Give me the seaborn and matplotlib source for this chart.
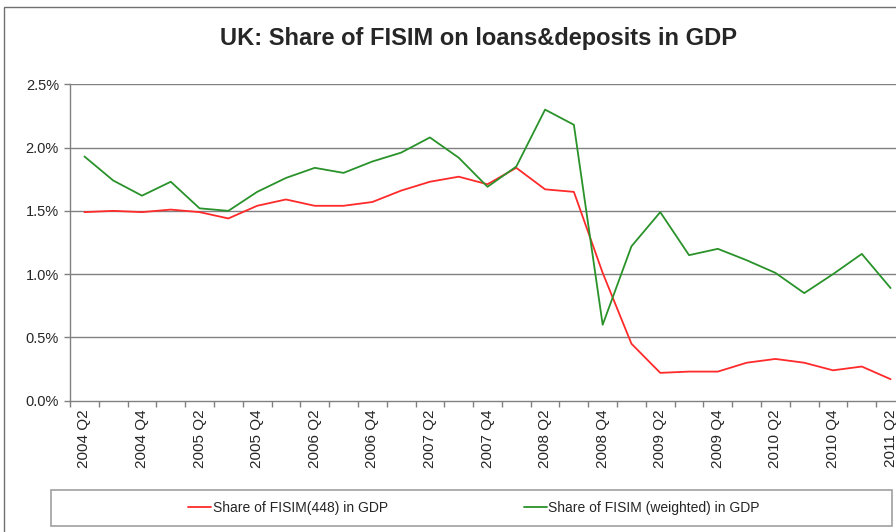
import numpy as np
import pandas as pd
import matplotlib
matplotlib.use("Agg")
import matplotlib.pyplot as plt
import seaborn as sns
from matplotlib.patches import Rectangle
from matplotlib.lines import Line2D
from matplotlib.ticker import FuncFormatter

# quarters on the category axis
quarters = ["2004 Q2", "2004 Q3", "2004 Q4", "2005 Q1", "2005 Q2", "2005 Q3", "2005 Q4",
            "2006 Q1", "2006 Q2", "2006 Q3", "2006 Q4", "2007 Q1", "2007 Q2", "2007 Q3",
            "2007 Q4", "2008 Q1", "2008 Q2", "2008 Q3", "2008 Q4", "2009 Q1", "2009 Q2",
            "2009 Q3", "2009 Q4", "2010 Q1", "2010 Q2", "2010 Q3", "2010 Q4", "2011 Q1",
            "2011 Q2"]

# share in GDP, percent
fisim_448 = [1.49, 1.50, 1.49, 1.51, 1.49, 1.44, 1.54, 1.59, 1.54, 1.54, 1.57, 1.66, 1.73,
             1.77, 1.71, 1.84, 1.67, 1.65, 1.01, 0.45, 0.22, 0.23, 0.23, 0.30, 0.33, 0.30,
             0.24, 0.27, 0.17]
fisim_weighted = [1.93, 1.74, 1.62, 1.73, 1.52, 1.50, 1.65, 1.76, 1.84, 1.80, 1.89, 1.96, 2.08,
                  1.92, 1.69, 1.85, 2.30, 2.18, 0.60, 1.22, 1.49, 1.15, 1.20, 1.11, 1.01, 0.85,
                  1.00, 1.16, 0.89]

label_448 = "Share of FISIM(448) in GDP"
label_weighted = "Share of FISIM (weighted) in GDP"
y_ticks = [0.0, 0.5, 1.0, 1.5, 2.0, 2.5]

sns.set_style("white")
plt.rcParams["font.family"] = ["Liberation Sans", "DejaVu Sans"]

W, H = 896, 532
fig = plt.figure(figsize=(W / 100, H / 100), dpi=100)

# axes run past the right edge, as in the cropped original
left, right, top, bottom = 70, 905, 84.3, 400.7
ax = fig.add_axes([left / W, 1 - bottom / H, (right - left) / W, (bottom - top) / H])

pos = np.arange(len(quarters))
df = pd.DataFrame({"pos": pos, "a": fisim_448, "b": fisim_weighted})
red, green = "#ff2a2a", "#2a922a"
sns.lineplot(data=df, x="pos", y="a", color=red, lw=1.3, ax=ax)
sns.lineplot(data=df, x="pos", y="b", color=green, lw=1.3, ax=ax)

ax.set_xlim(-0.5, len(quarters) - 0.5)
ax.set_ylim(0, 2.5)
ax.set_xlabel("")
ax.set_ylabel("")

grid_c = "#808080"
ax.set_yticks(y_ticks)
ax.yaxis.set_major_formatter(FuncFormatter(lambda v, p: f"{v:.1f}%"))
for v in y_ticks[1:]:
    ax.axhline(v, color=grid_c, lw=1, zorder=0)

ax.set_xticks(pos[::2])
ax.set_xticklabels(quarters[::2], rotation=90, fontsize=11)
ax.set_xticks(np.arange(-0.5, len(quarters), 1), minor=True)
ax.tick_params(axis="x", which="major", length=0, pad=6)
ax.tick_params(axis="x", which="minor", length=4, color=grid_c, width=1, direction="out", bottom=True)
ax.tick_params(axis="y", length=4, color=grid_c, width=1, direction="out", left=True, labelsize=10.5, pad=4)

for s in ["top", "right"]:
    ax.spines[s].set_visible(False)
for s in ["left", "bottom"]:
    ax.spines[s].set_color(grid_c)
    ax.spines[s].set_linewidth(1)

fig.text(478 / W, 1 - 38 / H, "UK: Share of FISIM on loans&deposits in GDP",
         ha="center", va="center", fontsize=17, fontweight="bold")

# chart area border
fig.patches.append(Rectangle((4 / W, -0.05), 1.2, 1 - 7 / H + 0.05, transform=fig.transFigure,
                             fill=False, edgecolor="#707070", lw=1))
# legend box
fig.patches.append(Rectangle((51 / W, 1 - 526 / H), (892 - 51) / W, 36 / H, transform=fig.transFigure,
                             fill=False, edgecolor="#a0a0a0", lw=1.2))

handles = [Line2D([], [], color=red, lw=1.3), Line2D([], [], color=green, lw=1.3)]
fig.legend(handles, [label_448, label_weighted], loc="center", bbox_to_anchor=(474 / W, 1 - 508 / H),
           ncol=2, frameon=False, fontsize=10, handlelength=1.65, handletextpad=0.1, columnspacing=9.8)

fig.savefig("out.png", dpi=100)
